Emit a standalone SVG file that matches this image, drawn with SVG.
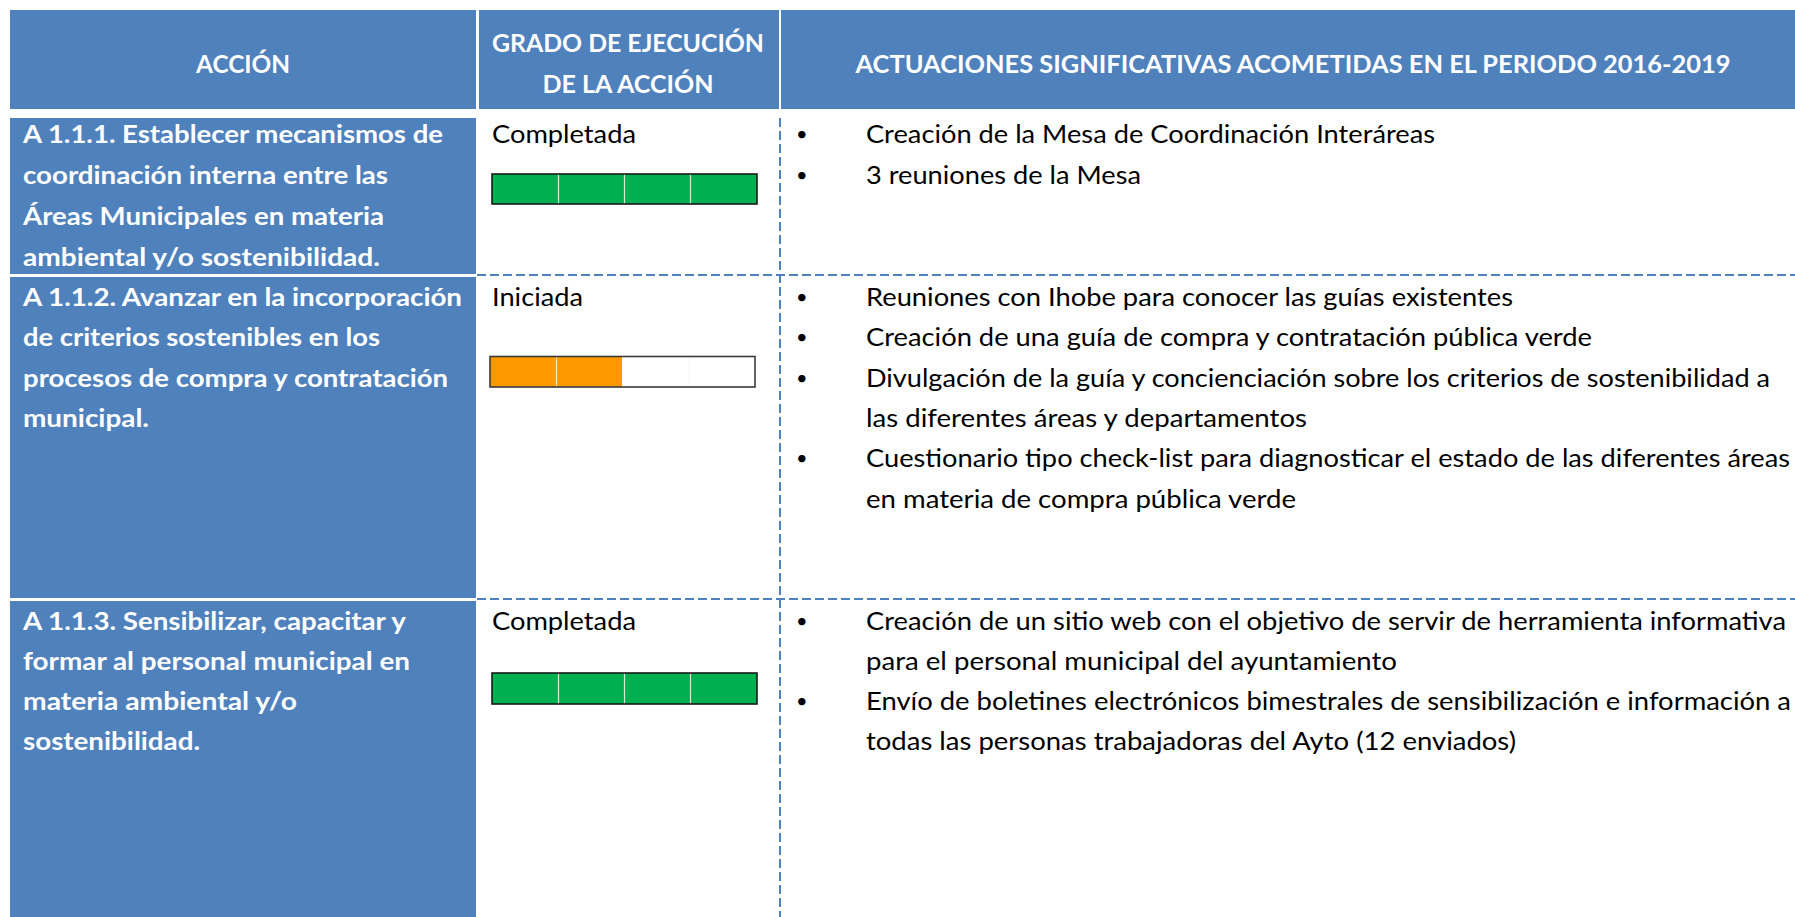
<svg xmlns="http://www.w3.org/2000/svg" width="1795" height="917" viewBox="0 0 1795 917">
<style>
.hdr{fill:#4F81BD}
.ht{font-family:Lato,"Open Sans","Liberation Sans",sans-serif;font-weight:bold;font-size:25px;fill:#FFFFFF;text-anchor:middle}
.ct{font-family:Lato,"Open Sans","Liberation Sans",sans-serif;font-weight:bold;font-size:24.5px;fill:#FFFFFF}
.bt{font-family:Lato,"Open Sans","Liberation Sans",sans-serif;font-size:25px;fill:#000000}
.bul{font-family:Lato,"Open Sans","Liberation Sans",sans-serif;font-size:20px;fill:#000000}
.dash{stroke:#4F81BD;stroke-width:2;stroke-dasharray:9 4;fill:none}
.g{fill:#00B050}
.o{fill:#FF9900}
.div{stroke:#CDEFD8;stroke-width:1.2}
.divo{stroke:#FFE2B8;stroke-width:1.2}
.frame{fill:none;stroke:#1A1A1A;stroke-width:1.6}
</style>

<g id="header">
  <rect class="hdr" x="10" y="10" width="466" height="99"/>
  <rect class="hdr" x="479" y="10" width="300" height="99"/>
  <rect class="hdr" x="781" y="10" width="1024" height="99"/>
  <text class="ht" x="243" y="73" textLength="94" lengthAdjust="spacingAndGlyphs">ACCIÓN</text>
  <text class="ht" x="628" y="52" textLength="272" lengthAdjust="spacingAndGlyphs">GRADO DE EJECUCIÓN</text>
  <text class="ht" x="628" y="93" textLength="171" lengthAdjust="spacingAndGlyphs">DE LA ACCIÓN</text>
  <text class="ht" x="1293" y="73" textLength="875" lengthAdjust="spacingAndGlyphs">ACTUACIONES SIGNIFICATIVAS ACOMETIDAS EN EL PERIODO 2016-2019</text>
</g>

<g id="connectors">
  <line class="dash" x1="477" y1="275" x2="1795" y2="275"/>
  <line class="dash" x1="477" y1="599" x2="1795" y2="599"/>
  <line class="dash" x1="780" y1="118" x2="780" y2="917"/>
</g>

<g id="row1">
  <rect class="hdr" x="10" y="118" width="466" height="156"/>
  <text class="ct" x="23" y="143" textLength="420" lengthAdjust="spacingAndGlyphs">A 1.1.1. Establecer mecanismos de</text>
  <text class="ct" x="23" y="184" textLength="365" lengthAdjust="spacingAndGlyphs">coordinación interna entre las</text>
  <text class="ct" x="23" y="225" textLength="361" lengthAdjust="spacingAndGlyphs">Áreas Municipales en materia</text>
  <text class="ct" x="23" y="266" textLength="357" lengthAdjust="spacingAndGlyphs">ambiental y/o sostenibilidad.</text>
  <text class="bt" x="492" y="143" textLength="144" lengthAdjust="spacingAndGlyphs">Completada</text>
  <g id="bar1">
    <rect class="g" x="492" y="174" width="265" height="30"/>
    <line class="div" x1="558.5" y1="174" x2="558.5" y2="204"/>
    <line class="div" x1="624.5" y1="174" x2="624.5" y2="204"/>
    <line class="div" x1="690.5" y1="174" x2="690.5" y2="204"/>
    <rect class="frame" x="492" y="174" width="265" height="30"/>
  </g>
  <text class="bul" x="796" y="141">•</text>
  <text class="bt" x="866" y="143" textLength="569" lengthAdjust="spacingAndGlyphs">Creación de la Mesa de Coordinación Interáreas</text>
  <text class="bul" x="796" y="182">•</text>
  <text class="bt" x="866" y="184" textLength="275" lengthAdjust="spacingAndGlyphs">3 reuniones de la Mesa</text>
</g>

<g id="row2">
  <rect class="hdr" x="10" y="277" width="466" height="321"/>
  <text class="ct" x="23" y="306" textLength="439" lengthAdjust="spacingAndGlyphs">A 1.1.2. Avanzar en la incorporación</text>
  <text class="ct" x="23" y="346" textLength="357" lengthAdjust="spacingAndGlyphs">de criterios sostenibles en los</text>
  <text class="ct" x="23" y="387" textLength="425" lengthAdjust="spacingAndGlyphs">procesos de compra y contratación</text>
  <text class="ct" x="23" y="427" textLength="126" lengthAdjust="spacingAndGlyphs">municipal.</text>
  <text class="bt" x="492" y="306" textLength="91" lengthAdjust="spacingAndGlyphs">Iniciada</text>
  <g id="bar2">
    <rect x="490" y="356.5" width="265" height="30.5" fill="#FFFFFF"/>
    <rect class="o" x="490" y="356.5" width="132" height="30.5"/>
    <line class="divo" x1="556.5" y1="356.5" x2="556.5" y2="387"/>
    <line x1="689" y1="357" x2="689" y2="387" stroke="#F4F4F4" stroke-width="1"/>
    <rect x="490" y="356.5" width="265" height="30.5" fill="none" stroke="#3A3A3A" stroke-width="1.6"/>
  </g>
  <text class="bul" x="796" y="304">•</text>
  <text class="bt" x="866" y="306" textLength="647" lengthAdjust="spacingAndGlyphs">Reuniones con Ihobe para conocer las guías existentes</text>
  <text class="bul" x="796" y="344">•</text>
  <text class="bt" x="866" y="346" textLength="726" lengthAdjust="spacingAndGlyphs">Creación de una guía de compra y contratación pública verde</text>
  <text class="bul" x="796" y="385">•</text>
  <text class="bt" x="866" y="387" textLength="904" lengthAdjust="spacingAndGlyphs">Divulgación de la guía y concienciación sobre los criterios de sostenibilidad a</text>
  <text class="bt" x="866" y="427" textLength="441" lengthAdjust="spacingAndGlyphs">las diferentes áreas y departamentos</text>
  <text class="bul" x="796" y="465">•</text>
  <text class="bt" x="866" y="467" textLength="924" lengthAdjust="spacingAndGlyphs">Cuestionario tipo check-list para diagnosticar el estado de las diferentes áreas</text>
  <text class="bt" x="866" y="508" textLength="430" lengthAdjust="spacingAndGlyphs">en materia de compra pública verde</text>
</g>

<g id="row3">
  <rect class="hdr" x="10" y="601" width="466" height="320"/>
  <text class="ct" x="23" y="630" textLength="383" lengthAdjust="spacingAndGlyphs">A 1.1.3. Sensibilizar, capacitar y</text>
  <text class="ct" x="23" y="670" textLength="387" lengthAdjust="spacingAndGlyphs">formar al personal municipal en</text>
  <text class="ct" x="23" y="710" textLength="274" lengthAdjust="spacingAndGlyphs">materia ambiental y/o</text>
  <text class="ct" x="23" y="750" textLength="177" lengthAdjust="spacingAndGlyphs">sostenibilidad.</text>
  <text class="bt" x="492" y="630" textLength="144" lengthAdjust="spacingAndGlyphs">Completada</text>
  <g id="bar3">
    <rect class="g" x="492" y="673" width="265" height="31"/>
    <line class="div" x1="558.5" y1="673" x2="558.5" y2="704"/>
    <line class="div" x1="624.5" y1="673" x2="624.5" y2="704"/>
    <line class="div" x1="690.5" y1="673" x2="690.5" y2="704"/>
    <rect class="frame" x="492" y="673" width="265" height="31"/>
  </g>
  <text class="bul" x="796" y="628">•</text>
  <text class="bt" x="866" y="630" textLength="920" lengthAdjust="spacingAndGlyphs">Creación de un sitio web con el objetivo de servir de herramienta informativa</text>
  <text class="bt" x="866" y="670" textLength="531" lengthAdjust="spacingAndGlyphs">para el personal municipal del ayuntamiento</text>
  <text class="bul" x="796" y="708">•</text>
  <text class="bt" x="866" y="710" textLength="925" lengthAdjust="spacingAndGlyphs">Envío de boletines electrónicos  bimestrales de sensibilización e información a</text>
  <text class="bt" x="866" y="750" textLength="650" lengthAdjust="spacingAndGlyphs">todas las personas trabajadoras del Ayto (12 enviados)</text>
</g>
</svg>
